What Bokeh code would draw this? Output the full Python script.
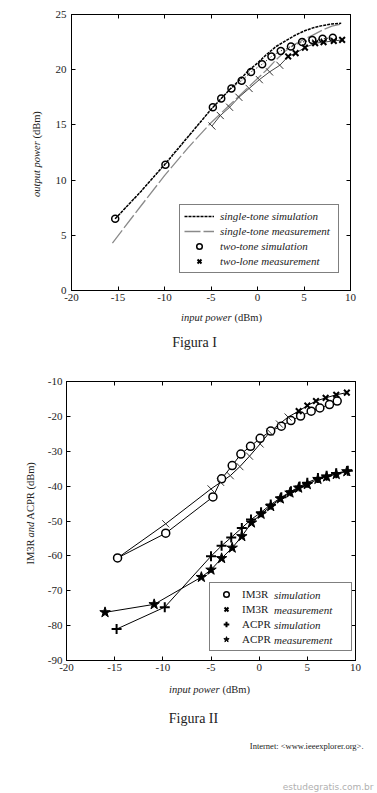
import math
import numpy as np
from bokeh.plotting import figure
from bokeh.models import Range1d, LinearAxis, Legend, LegendItem, FixedTicker
from bokeh.core.properties import value
from bokeh.layouts import column, row
from bokeh.embed import file_html
from bokeh.resources import INLINE

# ---------------- Figura I data ----------------
f1_xticks = [-20, -15, -10, -5, 0, 5, 10]
f1_xtick_labels = ["-20", "-15", "-10", "-5", "0", "5", "10"]
f1_yticks = [0, 5, 10, 15, 20, 25]
f1_ytick_labels = ["0", "5", "10", "15", "20", "25"]

st_sim_x = [-15.3, -12.5, -10, -7.5, -5, -4, -3, -2, -1, 0, 1, 2, 3, 4, 5, 6, 7, 8, 9]
st_sim_y = [6.5, 9.0, 11.4, 13.9, 16.4, 17.3, 18.2, 19.0, 19.9, 20.6, 21.4, 22.1, 22.6, 23.1, 23.5, 23.8, 24.0, 24.15, 24.2]

st_meas_x = [-15.6, -12.5, -10, -7.5, -5, -4, -3, -2, -1, 0, 1, 2, 3, 4, 5, 6, 7, 8, 9.1]
st_meas_y = [4.3, 7.7, 10.4, 12.9, 15.2, 16.0, 16.8, 17.6, 18.4, 19.2, 20.0, 20.9, 21.7, 22.3, 22.75, 23.15, 23.6, 23.95, 24.15]

tt_sim_x = [-15.3, -9.9, -4.8, -3.9, -2.8, -1.7, -0.7, 0.5, 1.5, 2.5, 3.6, 4.8, 5.9, 7.0, 8.1]
tt_sim_y = [6.5, 11.4, 16.6, 17.4, 18.3, 19.0, 19.8, 20.5, 21.2, 21.7, 22.1, 22.5, 22.7, 22.8, 22.9]

tt_meas_x = [-4.9, -4.0, -3.0, -2.0, -0.9, 0.2, 1.3, 2.4, 3.3, 4.1, 5.1, 6.2, 7.1, 8.2, 9.1]
tt_meas_y = [14.9, 15.85, 16.6, 17.5, 18.3, 19.1, 19.8, 20.4, 21.2, 21.5, 22.0, 22.4, 22.5, 22.6, 22.7]

# ---------------- Figura II data ----------------
f2_xticks = [-20, -15, -10, -5, 0, 5, 10]
f2_xtick_labels = ["-20", "-15", "-10", "-5", "0", "5", "10"]
f2_yticks = [-90, -80, -70, -60, -50, -40, -30, -20, -10]
f2_ytick_labels = ["-90", "-80", "-70", "-60", "-50", "-40", "-30", "-20", "-10"]

im3r_sim_x = [-14.7, -9.7, -4.8, -3.9, -2.8, -1.9, -0.9, 0.1, 1.2, 2.3, 3.3, 4.3, 5.4, 6.3, 7.3, 8.1]
im3r_sim_y = [-60.6, -53.5, -43.1, -37.9, -34.1, -30.8, -28.6, -26.3, -24.2, -22.8, -21.2, -19.9, -18.5, -17.6, -16.6, -15.6]

im3r_meas_x = [-14.7, -9.7, -5.0, -4.0, -3.0, -2.0, -1.0, 0.1, 1.1, 2.1, 3.0, 4.1, 5.0, 5.9, 6.9, 8.0, 9.1]
im3r_meas_y = [-60.6, -50.8, -40.8, -38.9, -37.0, -34.4, -31.4, -27.9, -24.5, -22.2, -20.2, -18.5, -16.9, -15.6, -14.7, -13.8, -13.2]

acpr_sim_x = [-14.8, -9.8, -5.0, -3.9, -2.9, -1.8, -0.85, 0.2, 1.2, 2.3, 3.3, 4.2, 5.0, 6.1, 7.0, 8.0, 9.2]
acpr_sim_y = [-81.0, -74.7, -60.1, -57.1, -54.7, -52.0, -49.6, -47.5, -45.3, -43.2, -41.5, -40.1, -39.0, -37.7, -37.0, -36.3, -35.6]

acpr_meas_x = [-16.0, -10.9, -6.0, -5.0, -3.9, -2.8, -1.8, -0.8, 0.2, 1.2, 2.2, 3.2, 4.1, 5.0, 6.1, 7.0, 8.0, 9.1]
acpr_meas_y = [-76.2, -73.9, -66.1, -64.0, -60.7, -57.7, -54.4, -50.5, -48.0, -45.8, -43.6, -41.9, -40.5, -39.5, -38.0, -37.3, -36.6, -35.8]

SERIF = "Liberation Serif"
TXT = "#222222"


def make_fig(width, height, yr, xticks, xlabels, yticks, ylabels, left, right, top, bottom,
             ystand):
    p = figure(width=width, height=height, x_range=Range1d(-20, 10), y_range=Range1d(*yr),
               output_backend="svg", toolbar_location=None, title=None,
               x_axis_location=None, y_axis_location=None,
               min_border_left=left, min_border_right=right,
               min_border_top=top, min_border_bottom=bottom)
    p.grid.visible = False
    p.outline_line_color = "black"
    p.background_fill_color = "white"
    p.border_fill_color = "white"
    for side, ticks, labels in (("below", xticks, xlabels), ("above", xticks, None),
                                ("left", yticks, ylabels), ("right", yticks, None)):
        ax = LinearAxis(ticker=FixedTicker(ticks=ticks))
        ax.major_tick_in = 4
        ax.major_tick_out = 0
        ax.minor_tick_line_color = None
        ax.axis_line_color = "black"
        ax.major_tick_line_color = "black"
        ax.major_label_text_font = SERIF
        ax.major_label_text_color = TXT
        if labels is None:
            ax.major_label_text_font_size = "0px"
            ax.major_label_text_alpha = 0
            ax.major_label_standoff = 0
        else:
            ax.major_label_overrides = {t: l for t, l in zip(ticks, labels)}
            ax.major_label_text_font_size = "11px"
            ax.major_label_standoff = 3 if side == "below" else ystand
        p.add_layout(ax, side)
    return p


def text_fig(width, height):
    f = figure(width=width, height=height, x_range=Range1d(0, width), y_range=Range1d(0, height),
               output_backend="svg", toolbar_location=None, title=None,
               x_axis_location=None, y_axis_location=None, min_border=0)
    f.grid.visible = False
    f.outline_line_color = None
    f.background_fill_color = "white"
    f.border_fill_color = "white"
    return f


def txt(f, s, x, y, size="10.5px", style="normal", align="left", angle=0.0,
        color=TXT, font=SERIF):
    f.text(x=[x], y=[y], text=[s], text_font=value(font), text_font_size=size,
           text_font_style=style, text_align=align, text_baseline="middle",
           angle=angle, text_color=color)


# ================= Figura I =================
p1 = make_fig(333, 307, (0, 25), f1_xticks, f1_xtick_labels, f1_yticks, f1_ytick_labels,
              27, 27, 14, 17, 5)

r_stm = p1.line(st_meas_x, st_meas_y, line_color="#8a8a8a", line_width=1.3, line_dash="16 3")
r_sts = p1.line(st_sim_x, st_sim_y, line_color="black", line_width=1.5, line_dash="3 1")
p1.line(tt_sim_x, tt_sim_y, line_color="black", line_width=1, line_dash="1 2")
r_tts = p1.scatter(tt_sim_x, tt_sim_y, marker="circle", size=7, fill_color=None,
                   line_color="black", line_width=1.5)
p1.line(tt_meas_x, tt_meas_y, line_color="#444444", line_width=1)
tmx = np.array(tt_meas_x)
tmy = np.array(tt_meas_y)
lo = tmx < 3
p1.scatter(tmx[lo], tmy[lo], marker="dash", size=10, angle=-0.8, line_color="#333333",
           line_width=1)
r_ttm = p1.scatter(tmx[~lo], tmy[~lo], marker="x", size=8, line_color="black", line_width=2)

leg1 = Legend(items=[LegendItem(label="single-tone simulation", renderers=[r_sts]),
                     LegendItem(label="single-tone measurement", renderers=[r_stm]),
                     LegendItem(label="two-tone simulation", renderers=[r_tts]),
                     LegendItem(label="two-lone measurement", renderers=[r_ttm])],
              location=(108, 17), orientation="vertical", margin=0, padding=4, spacing=1,
              glyph_width=30, glyph_height=14, label_height=14, label_width=114,
              label_standoff=6, border_line_color="black", border_line_width=1,
              background_fill_color="white", background_fill_alpha=1,
              label_text_font=SERIF, label_text_font_style="italic",
              label_text_font_size="11px", label_text_color=TXT)
p1.add_layout(leg1)

yl1 = text_fig(44, 307)
txt(yl1, "output power", 36, 166, style="italic", align="right", angle=math.pi / 2)
txt(yl1, "(dBm)", 36, 169, align="left", angle=math.pi / 2)

xl1 = text_fig(377, 61)
txt(xl1, "input power", 231, 51.5, style="italic", align="right")
txt(xl1, "(dBm)", 234, 51.5)
txt(xl1, "Figura I", 194, 26, size="14px", align="center")

# ================= Figura II =================
p2 = make_fig(333, 309, (-90, -10), f2_xticks, f2_xtick_labels, f2_yticks, f2_ytick_labels,
              19, 22, 13, 17, 4)

p2.line(im3r_sim_x, im3r_sim_y, line_color="black", line_width=1)
p2.line(im3r_meas_x, im3r_meas_y, line_color="black", line_width=1)
p2.line(acpr_sim_x, acpr_sim_y, line_color="black", line_width=1)
p2.line(acpr_meas_x, acpr_meas_y, line_color="black", line_width=1)

r_is = p2.scatter(im3r_sim_x, im3r_sim_y, marker="circle", size=8, fill_color="white",
                  line_color="black", line_width=1.5)
imx = np.array(im3r_meas_x)
imy = np.array(im3r_meas_y)
lo2 = imx < 4
p2.scatter(imx[lo2][1:], imy[lo2][1:], marker="dash", size=10, angle=-0.8,
           line_color="#333333", line_width=1)
r_im = p2.scatter(imx[~lo2], imy[~lo2], marker="x", size=8, line_color="black", line_width=2)
r_as = p2.scatter(acpr_sim_x, acpr_sim_y, marker="cross", size=10, line_color="black",
                  line_width=2)
r_am = p2.scatter(acpr_meas_x, acpr_meas_y, marker="star", size=11, fill_color="black",
                  line_color="black", line_width=1)
# invisible renderer: supplies an empty glyph for the italic half of the legend labels
r_blank = p2.scatter(x=[], y=[], marker="circle", size=1, fill_alpha=0, line_alpha=0)

leg_common = dict(orientation="vertical", margin=0, padding=4, spacing=1,
                  glyph_width=24, glyph_height=14, label_height=14,
                  label_text_font=SERIF, label_text_font_size="11px", label_text_color=TXT)
leg2 = Legend(items=[LegendItem(label="IM3R", renderers=[r_is]),
                     LegendItem(label="IM3R", renderers=[r_im]),
                     LegendItem(label="ACPR", renderers=[r_as]),
                     LegendItem(label="ACPR", renderers=[r_am])],
              location=(143, 9), label_width=105, label_standoff=4,
              border_line_color="black", border_line_width=1,
              background_fill_color="white", background_fill_alpha=1,
              label_text_font_style="normal", **leg_common)
p2.add_layout(leg2)
leg2b = Legend(items=[LegendItem(label="simulation", renderers=[r_blank]),
                      LegendItem(label="measurement", renderers=[r_blank]),
                      LegendItem(label="simulation", renderers=[r_blank]),
                      LegendItem(label="measurement", renderers=[r_blank])],
               location=(143, 13), label_width=20, label_standoff=41,
               border_line_color=None, background_fill_alpha=0,
               label_text_font_style="italic", **leg_common)
p2.add_layout(leg2b)

yl2 = text_fig(44, 309)
txt(yl2, "IM3R", 30, 134, align="right", angle=math.pi / 2)
txt(yl2, "and", 30, 145, style="italic", align="center", angle=math.pi / 2)
txt(yl2, "ACPR (dBm)", 30, 156, align="left", angle=math.pi / 2)

xl2 = text_fig(377, 116)
txt(xl2, "input power", 219, 104, style="italic", align="right")
txt(xl2, "(dBm)", 222, 104)
txt(xl2, "Figura II", 193, 75, size="14px", align="center")
txt(xl2, "Internet: <www.ieeexplorer.org>.", 363, 48, size="8.5px", align="right")
txt(xl2, "estudegratis.com.br", 373, 7, size="9px", align="right", color="#b0b0b0",
    font="DejaVu Sans")

layout = column(row(yl1, p1, spacing=0), xl1, row(yl2, p2, spacing=0), xl2, spacing=0)
open("out.html", "w").write(file_html(layout, INLINE))
